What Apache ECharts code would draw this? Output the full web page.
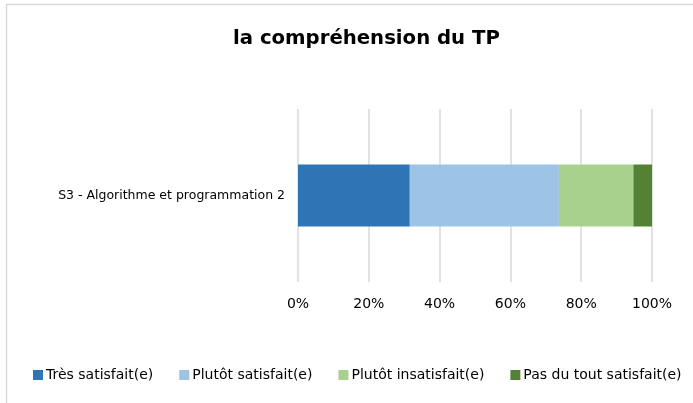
<!DOCTYPE html>
<html>
<head>
<meta charset="utf-8">
<style>
  html, body { margin: 0; padding: 0; background: #ffffff; }
  #chart { width: 693px; height: 403px; }
</style>
<script src="https://cdn.jsdelivr.net/npm/echarts@6/dist/echarts.min.js"></script>
</head>
<body>
<div id="chart"></div>
<script>
// Course evaluated
const categories = ['S3 - Algorithme et programmation 2'];

// Response categories (legend order) and their share in percent
const seriesNames = ['Très satisfait(e)', 'Plutôt satisfait(e)', 'Plutôt insatisfait(e)', 'Pas du tout satisfait(e)'];
const tresSatisfait = [31.58];
const plutotSatisfait = [42.11];
const plutotInsatisfait = [21.05];
const pasDuToutSatisfait = [5.26];

// Percentage axis ticks
const axisMin = 0;
const axisMax = 100;
const axisStep = 20;

const seriesValues = [tresSatisfait, plutotSatisfait, plutotInsatisfait, pasDuToutSatisfait];
const colors = ['#2E75B6', '#9DC3E6', '#A9D18E', '#548235'];

const font = 'Tahoma, "DejaVu Sans", Verdana, sans-serif';

const chart = echarts.init(document.getElementById('chart'), null, { renderer: 'canvas' });

chart.setOption({
  animation: false,
  backgroundColor: '#ffffff',
  title: {
    text: 'la compréhension du TP',
    left: 228,
    top: 24,
    textStyle: { fontFamily: font, fontSize: 19.7, fontWeight: 'bold', color: '#000000' }
  },
  legend: {
    data: seriesNames,
    bottom: 16,
    left: 28,
    itemWidth: 10,
    itemHeight: 10,
    itemGap: 26,
    icon: 'rect',
    textStyle: { fontFamily: font, fontSize: 14, color: '#000000', padding: [0, 0, 0, -2] }
  },
  grid: { left: 298, right: 41, top: 109, bottom: 121, containLabel: false },
  xAxis: {
    type: 'value',
    min: axisMin,
    max: axisMax,
    interval: axisStep,
    axisLine: { show: false },
    axisTick: { show: false },
    axisLabel: {
      formatter: '{value}%',
      margin: 15,
      fontFamily: font,
      fontSize: 14,
      color: '#000000'
    },
    splitLine: { show: true, lineStyle: { color: '#d9d9d9', width: 1.5 } }
  },
  yAxis: {
    type: 'category',
    data: categories,
    axisLine: { show: false },
    axisTick: { show: false },
    axisLabel: { margin: 13, fontFamily: font, fontSize: 12.5, color: '#000000' }
  },
  series: seriesNames.map((name, i) => ({
    name: name,
    type: 'bar',
    stack: 'total',
    barWidth: 62,
    itemStyle: { color: colors[i] },
    data: seriesValues[i]
  })),
  graphic: [{
    type: 'polyline',
    shape: { points: [[6.5, 403], [6.5, 4.5], [693, 4.5]] },
    style: { stroke: '#d9d9d9', lineWidth: 1.5, fill: null },
    silent: true
  }]
});
</script>
</body>
</html>
